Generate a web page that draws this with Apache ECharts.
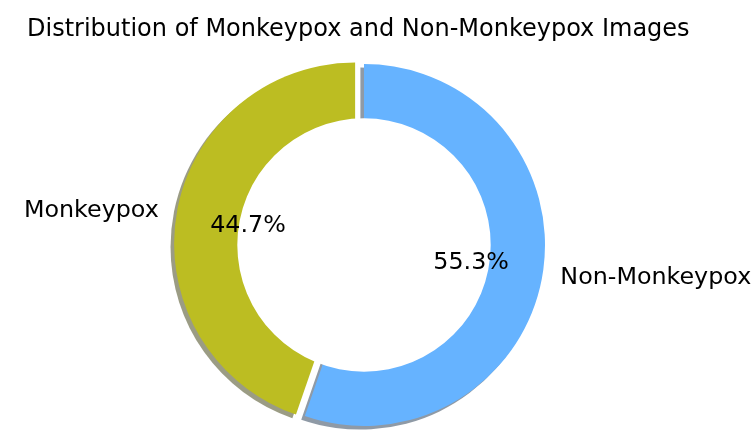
<!DOCTYPE html>
<html><head><meta charset="utf-8">
<script src="https://cdn.jsdelivr.net/npm/echarts@6/dist/echarts.min.js"></script>
<style>html,body{margin:0;padding:0;background:#fff}#c{width:756px;height:442px}</style>
</head><body><div id="c"></div>
<script>
const categories = ['Monkeypox', 'Non-Monkeypox'];
const shares = [44.7, 55.3];
const exploded = [true, false];
const titleText = 'Distribution of Monkeypox and Non-Monkeypox Images';

const FONT = "'DejaVu Sans', sans-serif";
const sliceColors = ['#bcbd22', '#66b3ff'];
const shadowColors = ['rgba(56,57,10,0.5)', 'rgba(31,54,77,0.5)'];
const CENTER = [364, 245];
const R = 181;
const OFFSET = 9;

const chart = echarts.init(document.getElementById('c'), null, {renderer: 'canvas'});
chart.setOption({
  animation: false,
  backgroundColor: '#ffffff',
  title: {
    text: titleText, left: 27, top: 18, padding: 0,
    textStyle: {fontFamily: FONT, fontSize: 24, fontWeight: 'normal', color: '#000'}
  },
  series: [
    {
      type: 'pie', center: CENTER, radius: [0, R],
      startAngle: 90, clockwise: false,
      selectedMode: 'multiple', selectedOffset: OFFSET,
      avoidLabelOverlap: false, silent: true, z: 1,
      label: {show: true, position: 'outside', fontFamily: FONT, fontSize: 23.8, color: '#000', distanceToLabelLine: 0},
      labelLine: {show: false, length: R * 0.1, length2: 0},
      emphasis: {disabled: true},
      data: categories.map((n, i) => ({
        name: n, value: shares[i], selected: exploded[i],
        itemStyle: {color: sliceColors[i], shadowColor: shadowColors[i], shadowOffsetX: -3.6, shadowOffsetY: 3.6, shadowBlur: 0}
      }))
    },
    {
      type: 'pie', center: CENTER, radius: [0, R * 0.7],
      silent: true, z: 2,
      label: {show: false}, labelLine: {show: false},
      itemStyle: {color: '#ffffff'},
      emphasis: {disabled: true},
      data: [{name: 'hole', value: 1}]
    },
    {
      type: 'pie', center: CENTER, radius: [0, R * 1.2 - 6],
      startAngle: 90, clockwise: false,
      selectedMode: 'multiple', selectedOffset: OFFSET,
      avoidLabelOverlap: false, silent: true, percentPrecision: 1, z: 3,
      label: {show: true, position: 'inside', formatter: '{d}%', fontFamily: FONT, fontSize: 23.8, color: '#000'},
      labelLine: {show: false},
      itemStyle: {color: 'rgba(0,0,0,0)'},
      emphasis: {disabled: true},
      data: categories.map((n, i) => ({name: n, value: shares[i], selected: exploded[i]}))
    }
  ]
});
</script></body></html>
